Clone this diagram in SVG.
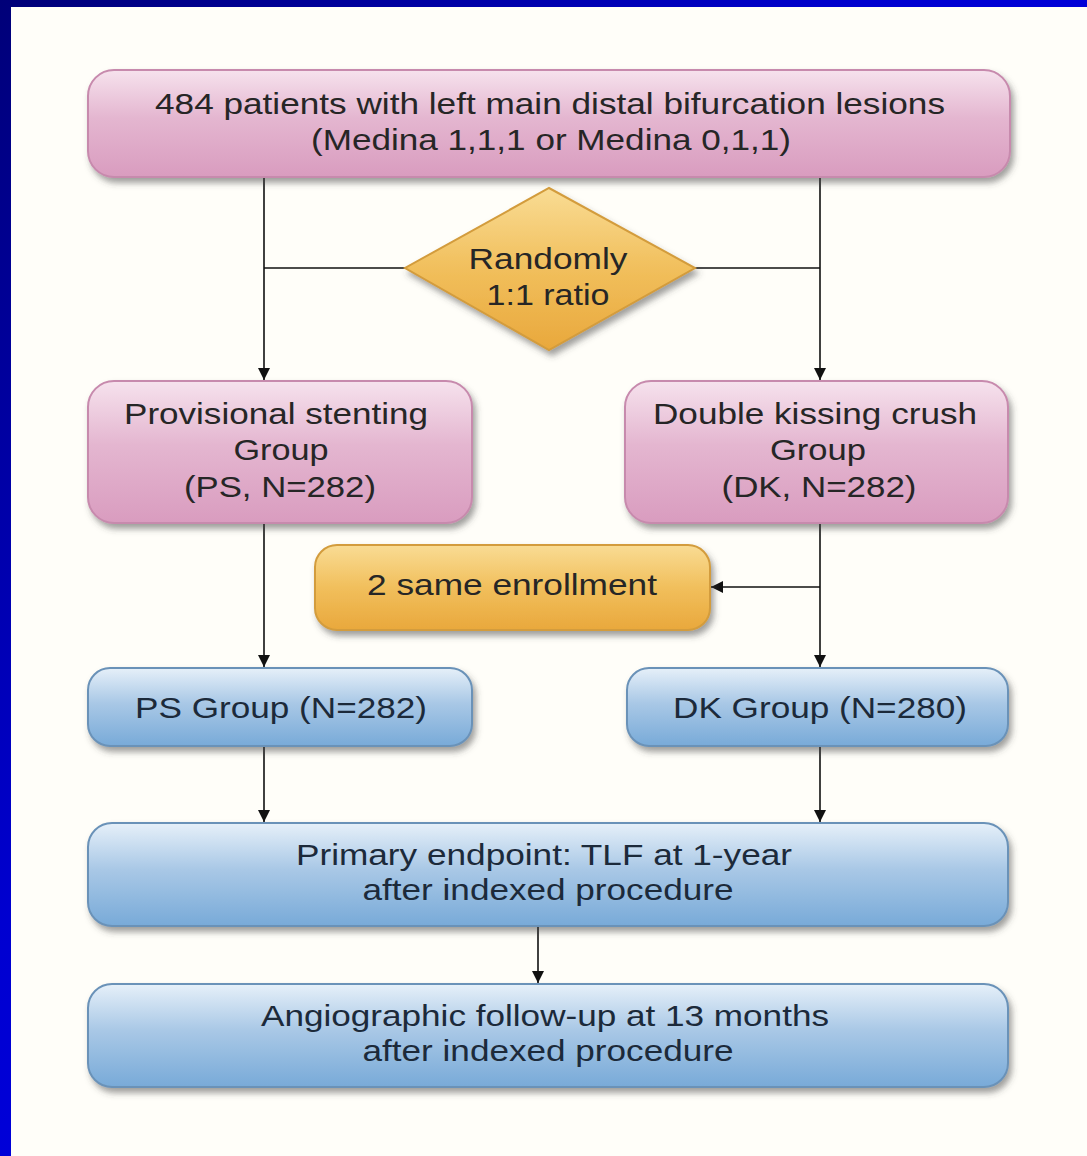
<svg xmlns="http://www.w3.org/2000/svg" width="1087" height="1156" viewBox="0 0 1087 1156">
<defs>
<linearGradient id="frame" x1="0" y1="0" x2="1" y2="1">
<stop offset="0" stop-color="#000078"/>
<stop offset="0.4" stop-color="#0000d0"/>
<stop offset="1" stop-color="#0000ff"/>
</linearGradient>
<linearGradient id="pink" x1="0" y1="0" x2="0" y2="1">
<stop offset="0" stop-color="#f6e2ed"/>
<stop offset="0.45" stop-color="#e4b6d0"/>
<stop offset="1" stop-color="#d99cbf"/>
</linearGradient>
<linearGradient id="orange" x1="0" y1="0" x2="0" y2="1">
<stop offset="0" stop-color="#f9dc94"/>
<stop offset="0.5" stop-color="#f1bf5c"/>
<stop offset="1" stop-color="#e9a83c"/>
</linearGradient>
<linearGradient id="blue" x1="0" y1="0" x2="0" y2="1">
<stop offset="0" stop-color="#e6f0f9"/>
<stop offset="0.45" stop-color="#a9c8e6"/>
<stop offset="1" stop-color="#78aad8"/>
</linearGradient>
<filter id="sh" x="-10%" y="-20%" width="125%" height="150%">
<feDropShadow dx="3" dy="5" stdDeviation="3" flood-color="#404040" flood-opacity="0.5"/>
</filter>
<marker id="ah" viewBox="0 0 10 10" refX="10" refY="5" markerWidth="12" markerHeight="13" markerUnits="userSpaceOnUse" orient="auto">
<path d="M0,0 L10,5 L0,10 z" fill="#111"/>
</marker>
</defs>
<style>
.t{font-family:"Liberation Sans",Arial,sans-serif;font-size:30px;fill:#262626;text-anchor:middle}
.tb{font-family:"Liberation Sans",Arial,sans-serif;font-size:30px;fill:#1c2a3a;text-anchor:middle}
.pk{fill:url(#pink);stroke:#c78aad;stroke-width:2;filter:url(#sh)}
.or{fill:url(#orange);stroke:#d39c3c;stroke-width:2;filter:url(#sh)}
.bl{fill:url(#blue);stroke:#6a92b8;stroke-width:2;filter:url(#sh)}
.ln{fill:none;stroke:#111;stroke-width:1.6}
</style>
<rect x="0" y="0" width="1087" height="1156" fill="url(#frame)"/>
<rect x="11" y="7" width="1076" height="1149" fill="#fffef9"/>

<g id="connectors">
<path class="ln" d="M264,177 V380" marker-end="url(#ah)"/>
<path class="ln" d="M820,177 V380" marker-end="url(#ah)"/>
<path class="ln" d="M264,268 H407"/>
<path class="ln" d="M693,268 H820"/>
<path class="ln" d="M264,523 V667" marker-end="url(#ah)"/>
<path class="ln" d="M820,523 V667" marker-end="url(#ah)"/>
<path class="ln" d="M820,587 H711" marker-end="url(#ah)"/>
<path class="ln" d="M264,746 V822" marker-end="url(#ah)"/>
<path class="ln" d="M820,746 V822" marker-end="url(#ah)"/>
<path class="ln" d="M538,926 V983" marker-end="url(#ah)"/>
</g>

<g id="n-patients">
<rect class="pk" x="88" y="70" width="922" height="107" rx="26"/>
<text class="t" x="550" y="114" textLength="790" lengthAdjust="spacingAndGlyphs">484 patients with left main distal bifurcation lesions</text>
<text class="t" x="551" y="150" textLength="480" lengthAdjust="spacingAndGlyphs">(Medina 1,1,1 or Medina 0,1,1)</text>
</g>

<g id="n-random">
<polygon class="or" points="549,188 695,268 549,350 405,268"/>
<text class="t" x="548" y="269" textLength="159" lengthAdjust="spacingAndGlyphs">Randomly</text>
<text class="t" x="548" y="305" textLength="123" lengthAdjust="spacingAndGlyphs">1:1 ratio</text>
</g>

<g id="n-ps">
<rect class="pk" x="88" y="381" width="384" height="142" rx="26"/>
<text class="t" x="276" y="424" textLength="304" lengthAdjust="spacingAndGlyphs">Provisional stenting</text>
<text class="t" x="281" y="460" textLength="95" lengthAdjust="spacingAndGlyphs">Group</text>
<text class="t" x="280" y="497" textLength="192" lengthAdjust="spacingAndGlyphs">(PS, N=282)</text>
</g>

<g id="n-dk">
<rect class="pk" x="625" y="381" width="383" height="142" rx="26"/>
<text class="t" x="815" y="424" textLength="324" lengthAdjust="spacingAndGlyphs">Double kissing crush</text>
<text class="t" x="818" y="460" textLength="96" lengthAdjust="spacingAndGlyphs">Group</text>
<text class="t" x="819" y="497" textLength="195" lengthAdjust="spacingAndGlyphs">(DK, N=282)</text>
</g>

<g id="n-same">
<rect class="or" x="315" y="545" width="395" height="85" rx="22"/>
<text class="t" x="512" y="595" textLength="290" lengthAdjust="spacingAndGlyphs">2 same enrollment</text>
</g>

<g id="n-psg">
<rect class="bl" x="88" y="668" width="384" height="78" rx="22"/>
<text class="tb" x="281" y="718" textLength="292" lengthAdjust="spacingAndGlyphs">PS Group (N=282)</text>
</g>

<g id="n-dkg">
<rect class="bl" x="627" y="668" width="381" height="78" rx="22"/>
<text class="tb" x="820" y="718" textLength="294" lengthAdjust="spacingAndGlyphs">DK Group (N=280)</text>
</g>

<g id="n-primary">
<rect class="bl" x="88" y="823" width="920" height="103" rx="24"/>
<text class="tb" x="544" y="865" textLength="496" lengthAdjust="spacingAndGlyphs">Primary endpoint: TLF at 1-year</text>
<text class="tb" x="548" y="900" textLength="371" lengthAdjust="spacingAndGlyphs">after indexed procedure</text>
</g>

<g id="n-angio">
<rect class="bl" x="88" y="984" width="920" height="103" rx="24"/>
<text class="tb" x="545" y="1026" textLength="568" lengthAdjust="spacingAndGlyphs">Angiographic follow-up at 13 months</text>
<text class="tb" x="548" y="1061" textLength="371" lengthAdjust="spacingAndGlyphs">after indexed procedure</text>
</g>
</svg>
